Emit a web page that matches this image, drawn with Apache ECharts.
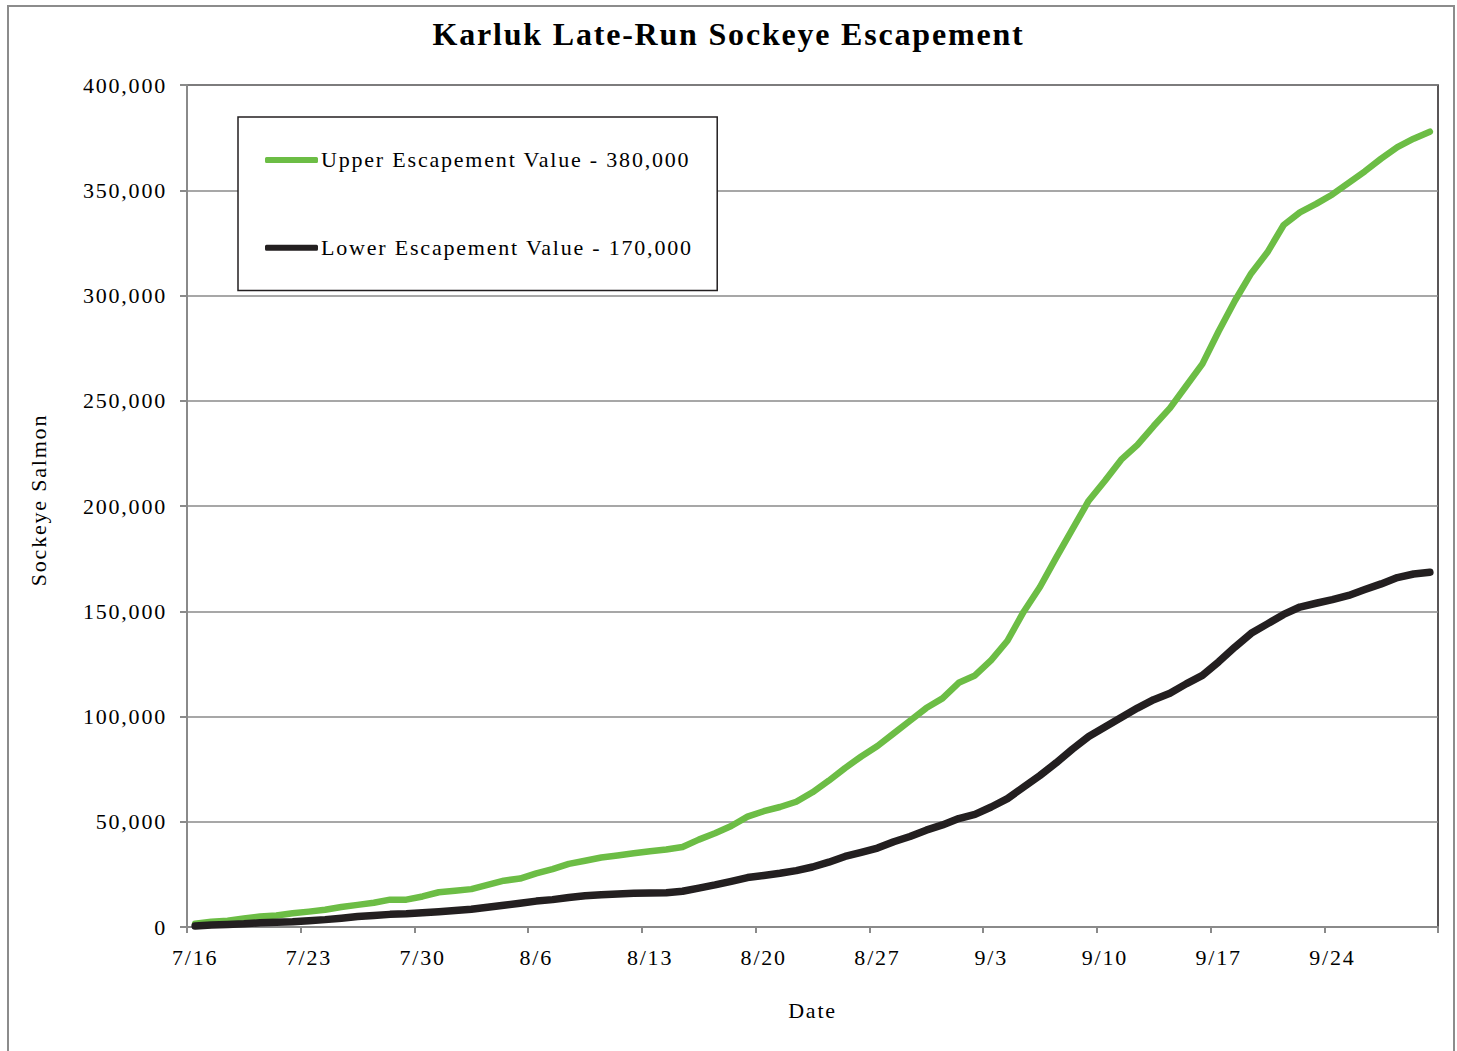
<!DOCTYPE html>
<html>
<head>
<meta charset="utf-8">
<title>Karluk Late-Run Sockeye Escapement</title>
<script src="https://cdn.jsdelivr.net/npm/echarts@6/dist/echarts.min.js"></script>
<style>
  html, body { margin: 0; padding: 0; background: #ffffff; }
  #chart { width: 1457px; height: 1051px; }
  /* the typeset look of this chart uses slightly tracked-out serif text */
  #chart text { letter-spacing: 1.8px; }
</style>
</head>
<body>
<div id="chart"></div>
<script>
// Daily dates, 16 July through 30 September
const dates = [
  '7/16','7/17','7/18','7/19','7/20','7/21','7/22','7/23','7/24','7/25','7/26','7/27','7/28','7/29','7/30','7/31',
  '8/1','8/2','8/3','8/4','8/5','8/6','8/7','8/8','8/9','8/10','8/11','8/12','8/13','8/14','8/15','8/16','8/17',
  '8/18','8/19','8/20','8/21','8/22','8/23','8/24','8/25','8/26','8/27','8/28','8/29','8/30','8/31',
  '9/1','9/2','9/3','9/4','9/5','9/6','9/7','9/8','9/9','9/10','9/11','9/12','9/13','9/14','9/15','9/16',
  '9/17','9/18','9/19','9/20','9/21','9/22','9/23','9/24','9/25','9/26','9/27','9/28','9/29','9/30'
];

// Cumulative escapement objective, upper bound (380,000 season total)
const upperEscapement = [
  1500, 2500, 3000, 4000, 5000, 5500, 6500, 7300, 8200, 9500, 10500, 11500, 13000, 13000, 14500, 16500,
  17200, 18000, 20000, 22000, 23000, 25500, 27500, 30000, 31500, 33000, 34000, 35000, 36000, 36800, 38000, 41500, 44500,
  48000, 52400, 55000, 57000, 59500, 64000, 69500, 75500, 81000, 86000, 92000, 98000, 104000, 108600,
  116000, 119500, 126800, 136000, 149800, 161500, 175500, 189000, 202500, 212000, 222000, 229000, 238000, 246500, 257000, 267500,
  283000, 297500, 310500, 320500, 333500, 339500, 343500, 348000, 353500, 359000, 365000, 370500, 374500, 377800
];

// Cumulative escapement objective, lower bound (170,000 season total)
const lowerEscapement = [
  500, 1000, 1200, 1500, 2000, 2200, 2500, 3000, 3500, 4200, 5000, 5500, 6000, 6300, 6800, 7300,
  7800, 8400, 9400, 10300, 11300, 12300, 13000, 14000, 14800, 15300, 15700, 16000, 16200, 16300, 17000, 18500, 20000,
  21700, 23500, 24500, 25500, 26800, 28500, 30800, 33500, 35500, 37500, 40500, 43000, 46000, 48500,
  51500, 53500, 57000, 61000, 66500, 72000, 78000, 84500, 90500, 95000, 99500, 104000, 108000, 111000, 115500, 119500,
  126000, 133000, 139500, 144000, 148500, 152000, 153800, 155500, 157500, 160300, 163000, 166000, 167700, 168500
];

const seriesNames = ['Upper Escapement Value - 380,000', 'Lower Escapement Value - 170,000'];
const seriesColors = ['#6cbd45', '#231f20'];

const serif = '"Liberation Serif", "Times New Roman", serif';
const axisGray = '#8a8a8a';
const TRACKING = 1.8;

// Text measurement that accounts for the letter spacing set in the stylesheet,
// so legend boxes and label layout get the right widths.
const measureCtx = document.createElement('canvas').getContext('2d');
if (typeof echarts.setPlatformAPI === 'function') {
  echarts.setPlatformAPI({
    measureText(text, font) {
      measureCtx.font = font || '12px sans-serif';
      const w = measureCtx.measureText(text).width + TRACKING * String(text).length;
      return { width: w };
    }
  });
}

const chart = echarts.init(document.getElementById('chart'), null, { renderer: 'svg' });

chart.setOption({
  backgroundColor: '#ffffff',
  animation: false,
  graphic: [{
    type: 'rect',
    shape: { x: 8, y: 6, width: 1446, height: 1060 },
    style: { fill: 'none', stroke: '#8c8c8c', lineWidth: 2 },
    silent: true, z: -10
  }],
  title: {
    text: 'Karluk Late-Run Sockeye Escapement',
    left: 'center',
    top: 12,
    textStyle: { fontFamily: serif, fontWeight: 'bold', fontSize: 32, color: '#000' }
  },
  grid: {
    left: 187, right: 19, top: 85, bottom: 124,
    show: true, borderColor: '#231f20', borderWidth: 1.5, backgroundColor: '#fff'
  },
  legend: {
    orient: 'vertical',
    left: 238, top: 117,
    padding: [31, 24, 31, 27],
    itemGap: 64,
    itemWidth: 53, itemHeight: 6,
    icon: 'roundRect',
    backgroundColor: '#fff',
    borderColor: '#231f20', borderWidth: 1.5,
    textStyle: { fontFamily: serif, fontSize: 22, color: '#000', padding: [0, 0, 0, -2] },
    data: seriesNames
  },
  xAxis: {
    type: 'category',
    data: dates,
    boundaryGap: true,
    name: 'Date',
    nameLocation: 'middle',
    nameGap: 72,
    nameTextStyle: { fontFamily: serif, fontSize: 22, color: '#000', verticalAlign: 'top' },
    axisLine: { lineStyle: { color: axisGray, width: 2 } },
    axisTick: { show: true, interval: 6, length: 6, lineStyle: { color: axisGray, width: 2 } },
    axisLabel: { interval: 6, margin: 19, fontFamily: serif, fontSize: 22, color: '#000' },
    splitLine: { show: false }
  },
  yAxis: {
    type: 'value',
    min: 0, max: 400000, interval: 50000,
    name: 'Sockeye Salmon',
    nameLocation: 'middle',
    nameGap: 137,
    nameRotate: 90,
    nameTextStyle: { fontFamily: serif, fontSize: 22, color: '#000', padding: [0, 0, 0, 12] },
    axisLine: { show: true, lineStyle: { color: axisGray, width: 2 } },
    axisTick: { show: true, length: 7, lineStyle: { color: axisGray, width: 2 } },
    axisLabel: {
      margin: 20, fontFamily: serif, fontSize: 22, color: '#000',
      formatter: v => v.toString().replace(/\B(?=(\d{3})+(?!\d))/g, ',')
    },
    splitLine: { show: true, lineStyle: { color: axisGray, width: 1.5 } }
  },
  series: [
    {
      name: seriesNames[0], type: 'line', data: upperEscapement,
      showSymbol: false, symbol: 'none',
      lineStyle: { color: seriesColors[0], width: 6.5, cap: 'round', join: 'round' },
      itemStyle: { color: seriesColors[0] },
      z: 3
    },
    {
      name: seriesNames[1], type: 'line', data: lowerEscapement,
      showSymbol: false, symbol: 'none',
      lineStyle: { color: seriesColors[1], width: 7.5, cap: 'round', join: 'round' },
      itemStyle: { color: seriesColors[1] },
      z: 4
    }
  ]
});
</script>
</body>
</html>
